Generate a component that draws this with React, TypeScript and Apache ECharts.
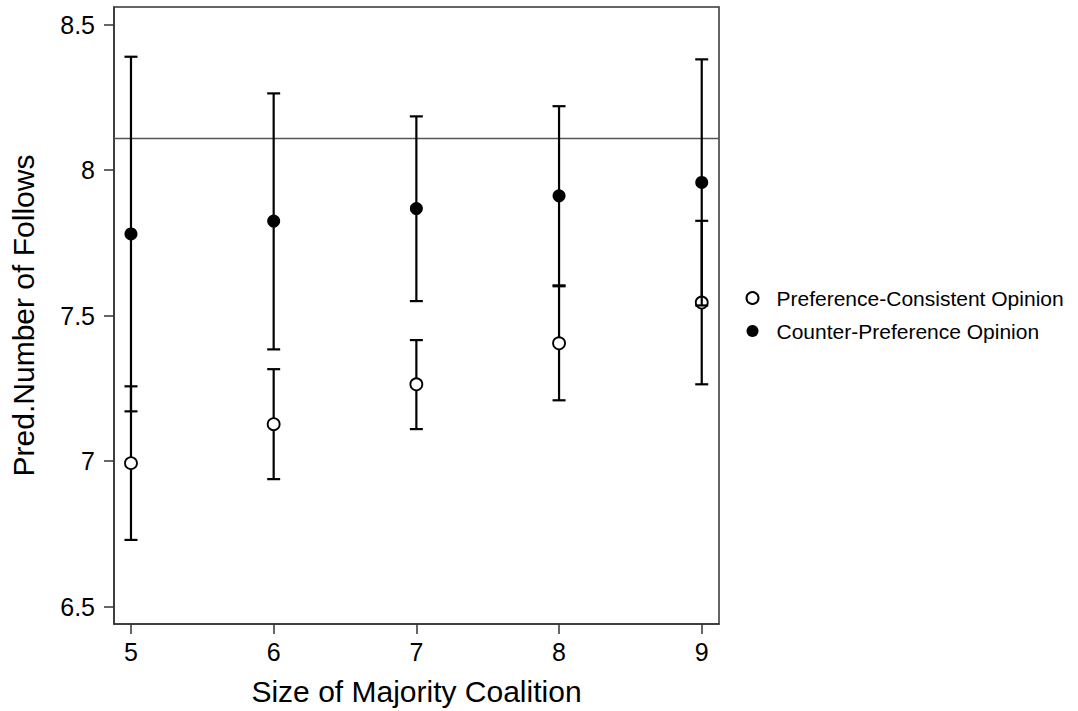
import React, { useEffect, useRef } from "react";
import * as echarts from "echarts";

const coalitionSizes = [5, 6, 7, 8, 9];
const consistentMean = [6.993, 7.127, 7.264, 7.405, 7.545];
const consistentLow = [6.729, 6.938, 7.11, 7.209, 7.264];
const consistentHigh = [7.257, 7.316, 7.416, 7.601, 7.826];
const counterMean = [7.781, 7.825, 7.868, 7.912, 7.958];
const counterLow = [7.171, 7.384, 7.55, 7.604, 7.535];
const counterHigh = [8.39, 8.264, 8.185, 8.22, 8.381];
const referenceValue = 8.109;
const xTicks = [5, 6, 7, 8, 9];
const yTicks = [6.5, 7, 7.5, 8, 8.5];
const seriesNames = ["Preference-Consistent Opinion", "Counter-Preference Opinion"];

const FONT = "'Liberation Sans', Arial, Helvetica, sans-serif";
const X_MIN = 4.881;
const X_MAX = 9.121;
const Y_MIN = 6.44;
const Y_MAX = 8.561;

function errorBarRender(params: any, api: any) {
  const x = api.value(0);
  const lo = api.value(1);
  const hi = api.value(2);
  const pLo = api.coord([x, lo]);
  const pHi = api.coord([x, hi]);
  const hw = 6.5;
  const style = { stroke: "#000", lineWidth: 2.2, fill: null };
  return {
    type: "group",
    children: [
      { type: "line", shape: { x1: pLo[0], y1: pLo[1], x2: pHi[0], y2: pHi[1] }, style },
      { type: "line", shape: { x1: pLo[0] - hw, y1: pLo[1], x2: pLo[0] + hw, y2: pLo[1] }, style },
      { type: "line", shape: { x1: pHi[0] - hw, y1: pHi[1], x2: pHi[0] + hw, y2: pHi[1] }, style },
    ],
  };
}

export default function App() {
  const ref = useRef<HTMLDivElement>(null);

  useEffect(() => {
    if (!ref.current) return;
    const chart = echarts.init(ref.current, null, { renderer: "svg" });

    const consistentBars = coalitionSizes.map((s, i) => [s, consistentLow[i], consistentHigh[i]]);
    const counterBars = coalitionSizes.map((s, i) => [s, counterLow[i], counterHigh[i]]);
    const consistentPts = coalitionSizes.map((s, i) => [s, consistentMean[i]]);
    const counterPts = coalitionSizes.map((s, i) => [s, counterMean[i]]);

    const axisLineStyle = { color: "#333", width: 1.5 };

    chart.setOption({
      animation: false,
      backgroundColor: "#fff",
      textStyle: { fontFamily: FONT, color: "#000" },
      grid: {
        left: 113,
        top: 7,
        width: 606,
        height: 618,
        show: true,
        borderColor: "#333",
        borderWidth: 1.5,
        backgroundColor: "#fff",
      },
      legend: {
        orient: "vertical",
        left: 745.5,
        top: 287.5,
        padding: 0,
        itemGap: 12,
        itemWidth: 24,
        itemHeight: 12,
        data: seriesNames,
        textStyle: { fontFamily: FONT, fontSize: 21, color: "#000", padding: [0, 0, 0, 7] },
      },
      xAxis: {
        type: "value",
        min: X_MIN,
        max: X_MAX,
        name: "Size of Majority Coalition",
        nameLocation: "middle",
        nameGap: 52,
        nameTextStyle: { fontFamily: FONT, fontSize: 30, color: "#000" },
        axisLine: { show: true, onZero: false, lineStyle: axisLineStyle },
        axisTick: { show: true, length: 10, customValues: xTicks, lineStyle: axisLineStyle },
        axisLabel: {
          customValues: xTicks,
          fontFamily: FONT,
          fontSize: 25,
          color: "#000",
          margin: 15,
        },
        splitLine: { show: false },
      },
      yAxis: {
        type: "value",
        min: Y_MIN,
        max: Y_MAX,
        name: "Pred.Number of Follows",
        nameLocation: "middle",
        nameGap: 76,
        nameTextStyle: { fontFamily: FONT, fontSize: 30, color: "#000" },
        axisLine: { show: true, onZero: false, lineStyle: axisLineStyle },
        axisTick: { show: true, length: 10, customValues: yTicks, lineStyle: axisLineStyle },
        axisLabel: {
          customValues: yTicks,
          fontFamily: FONT,
          fontSize: 25,
          color: "#000",
          margin: 19,
        },
        splitLine: { show: false },
      },
      series: [
        {
          type: "line",
          name: "reference",
          data: [
            [X_MIN, referenceValue],
            [X_MAX, referenceValue],
          ],
          symbol: "none",
          lineStyle: { color: "#555", width: 1.5 },
          silent: true,
          z: 1,
        },
        {
          type: "custom",
          name: "consistent-ci",
          renderItem: errorBarRender,
          data: consistentBars,
          encode: { x: 0, y: [1, 2] },
          z: 2,
        },
        {
          type: "scatter",
          name: seriesNames[0],
          data: consistentPts,
          symbol: "circle",
          symbolSize: 12,
          itemStyle: { color: "#fff", borderColor: "#000", borderWidth: 1.8, opacity: 1 },
          z: 3,
        },
        {
          type: "custom",
          name: "counter-ci",
          renderItem: errorBarRender,
          data: counterBars,
          encode: { x: 0, y: [1, 2] },
          z: 4,
        },
        {
          type: "scatter",
          name: seriesNames[1],
          data: counterPts,
          symbol: "circle",
          symbolSize: 13,
          itemStyle: { color: "#000", borderColor: "#000", borderWidth: 0, opacity: 1 },
          z: 5,
        },
      ],
    });

    return () => chart.dispose();
  }, []);

  return (
    <div
      ref={ref}
      style={{ position: "fixed", left: 0, top: 0, width: 1078, height: 711, background: "#fff" }}
    />
  );
}
